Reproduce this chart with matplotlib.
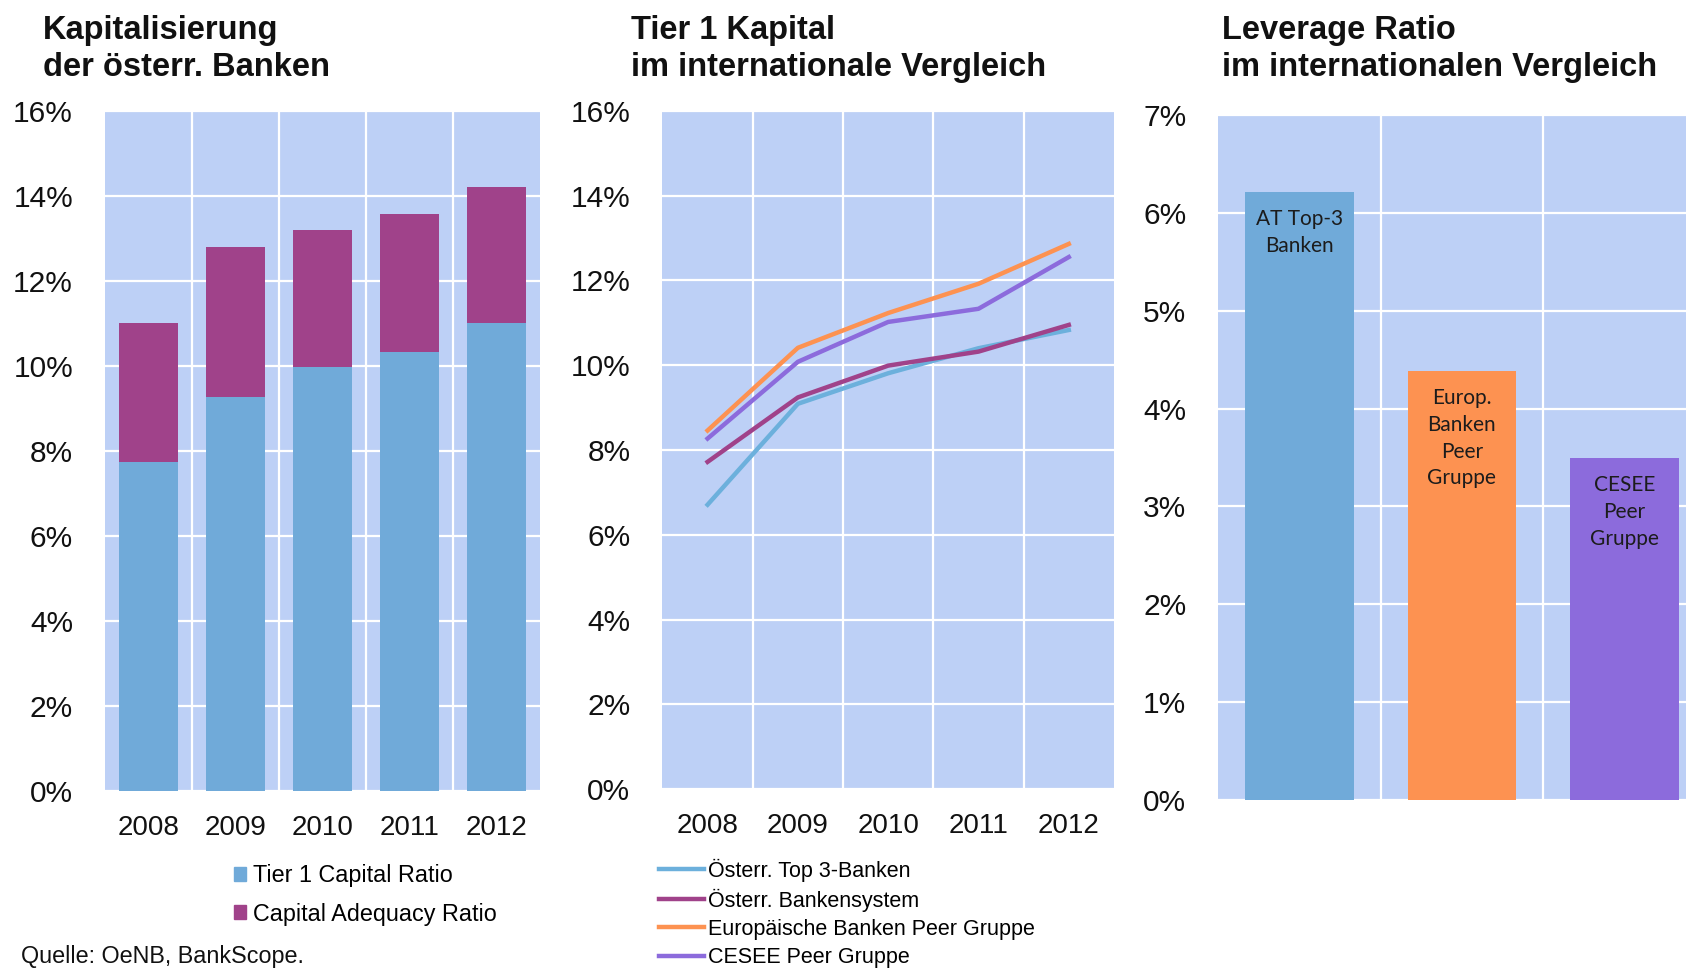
import matplotlib
matplotlib.use("Agg")
from matplotlib import pyplot as plt
from matplotlib.patches import Patch
from matplotlib.lines import Line2D
import numpy as np

plt.rcParams['font.family'] = ['Liberation Sans', 'DejaVu Sans']

# data
years = ["2008", "2009", "2010", "2011", "2012"]
tier1_ratio = [7.74, 9.28, 9.98, 10.34, 11.00]
capital_adequacy = [11.02, 12.79, 13.20, 13.57, 14.20]

top3_banken = [6.71, 9.09, 9.81, 10.40, 10.83]
bankensystem = [7.72, 9.24, 9.99, 10.32, 10.95]
europ_peer = [8.46, 10.41, 11.23, 11.92, 12.86]
cesee_peer = [8.27, 10.08, 11.02, 11.33, 12.55]

leverage_groups = ["AT Top-3\nBanken", "Europ.\nBanken\nPeer\nGruppe", "CESEE\nPeer\nGruppe"]
leverage_ratio = [6.21, 4.38, 3.49]

BG = "#bdd0f6"
C_BLUE = "#70aad9"
C_MAG = "#a0428a"
C_ORANGE = "#fd9251"
C_PURPLE = "#8c6bdc"
C_LBLUE = "#6cb0dc"
TXT = "#111111"


def style_axis(ax, ymax, step, ncat):
    ax.set_facecolor(BG)
    ax.set_xlim(-0.5, ncat - 0.5)
    ax.set_ylim(0, ymax)
    ticks = np.arange(0, ymax + step / 2, step)
    ax.set_yticks(ticks)
    ax.set_yticklabels(["{:.0f}%".format(t) for t in ticks])
    ax.set_xticks(np.arange(0.5, ncat - 0.5), minor=True)
    ax.grid(True, which='major', axis='y', color='white', lw=1.6)
    ax.grid(True, which='minor', axis='x', color='white', lw=1.6)
    ax.set_axisbelow(True)
    for s in ax.spines.values():
        s.set_visible(False)
    ax.tick_params(which='both', length=0)
    ax.tick_params(axis='y', labelsize=21.5, pad=23, colors=TXT)
    ax.tick_params(axis='x', labelsize=20, pad=17, colors=TXT)


fig = plt.figure(figsize=(16.86, 9.69), dpi=100)

# panel 1: stacked bars
ax1 = fig.add_axes([0.0623, 0.1833, 0.2580, 0.7024])
style_axis(ax1, 16, 2, len(years))
x = np.arange(len(years))
ax1.bar(x, tier1_ratio, width=0.67, color=C_BLUE, zorder=3)
ax1.bar(x, np.array(capital_adequacy) - np.array(tier1_ratio), bottom=tier1_ratio,
        width=0.67, color=C_MAG, zorder=3)
ax1.set_xticks(x)
ax1.set_xticklabels(years)
h1 = [Patch(color=C_BLUE), Patch(color=C_MAG)]
ax1.legend(h1, ["Tier 1 Capital Ratio", "Capital Adequacy Ratio"],
           loc='upper left', bbox_to_anchor=(0.1385, 0.108), bbox_transform=fig.transFigure,
           frameon=False, fontsize=16.8, handlelength=0.55, handleheight=0.55,
           handletextpad=0.3, labelspacing=0.65, borderaxespad=0, borderpad=0)

# panel 2: lines
ax2 = fig.add_axes([0.3929, 0.1855, 0.2678, 0.7002])
style_axis(ax2, 16, 2, len(years))
ax2.plot(x, top3_banken, color=C_LBLUE, lw=3.2, zorder=3)
ax2.plot(x, bankensystem, color=C_MAG, lw=3.2, zorder=3)
ax2.plot(x, europ_peer, color=C_ORANGE, lw=3.2, zorder=3)
ax2.plot(x, cesee_peer, color=C_PURPLE, lw=3.2, zorder=3)
ax2.set_xticks(x)
ax2.set_xticklabels(years)
h2 = [Line2D([], [], color=c, lw=3.2) for c in (C_LBLUE, C_MAG, C_ORANGE, C_PURPLE)]
ax2.legend(h2, ["Österr. Top 3-Banken", "Österr. Bankensystem",
                "Europäische Banken Peer Gruppe", "CESEE Peer Gruppe"],
           loc='upper left', bbox_to_anchor=(0.391, 0.114), bbox_transform=fig.transFigure,
           frameon=False, fontsize=15.5, handlelength=2.1, handletextpad=0.15,
           labelspacing=0.33, borderaxespad=0, borderpad=0)

# panel 3: leverage ratio
ax3 = fig.add_axes([0.7226, 0.1744, 0.2890, 0.7069])
style_axis(ax3, 7, 1, len(leverage_groups))
x3 = np.arange(len(leverage_groups))
ax3.bar(x3, leverage_ratio, width=0.67, color=[C_BLUE, C_ORANGE, C_PURPLE], zorder=3)
ax3.set_xticks([])
for xi, v, lab in zip(x3, leverage_ratio, leverage_groups):
    ax3.annotate(lab, (xi, v), xytext=(0, -12), textcoords='offset points',
                 ha='center', va='top', fontsize=15, family=['Lato', 'DejaVu Sans'],
                 color="#1c1c1c", linespacing=1.42, zorder=4)

# titles
title_kw = dict(fontsize=23.5, fontweight='bold', color=TXT, va='top', ha='left', linespacing=1.29)
fig.text(0.0255, 0.985, "Kapitalisierung\nder österr. Banken", **title_kw)
fig.text(0.3745, 0.985, "Tier 1 Kapital\nim internationale Vergleich", **title_kw)
fig.text(0.7246, 0.985, "Leverage Ratio\nim internationalen Vergleich", **title_kw)

fig.text(0.0125, 0.0125, "Quelle: OeNB, BankScope.", fontsize=16.8, color=TXT, ha='left', va='center')

fig.savefig("out.png", dpi=100)
